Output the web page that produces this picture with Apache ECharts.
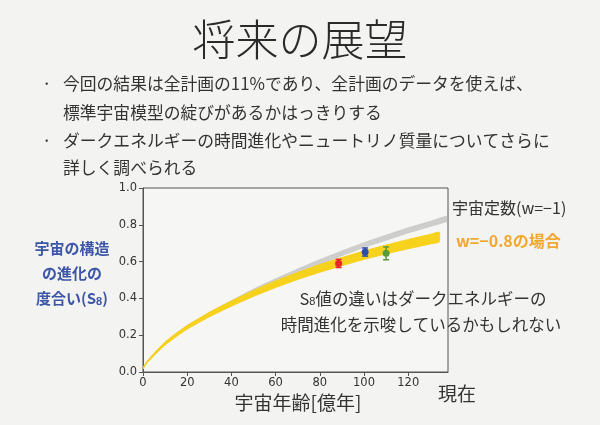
<!DOCTYPE html>
<html><head><meta charset="utf-8">
<script src="https://cdn.jsdelivr.net/npm/echarts@6/dist/echarts.min.js"></script>
<style>html,body{margin:0;padding:0;background:#f3f3f1}#c{width:600px;height:425px}</style>
</head><body><div id="c"></div>
<script>
// Age of universe [100 Myr units]
const lcdmAges  = [0, 1, 2, 5, 10, 15, 20, 30, 40, 50, 60, 70, 80, 90, 100, 110, 120, 130, 138];
// S8 growth, cosmological constant (w=-1): band centre and half width
const lcdmMid   = [0.02, 0.04, 0.056, 0.096, 0.156, 0.203, 0.245, 0.315, 0.378, 0.44, 0.495, 0.548, 0.598, 0.645, 0.69, 0.73, 0.77, 0.805, 0.835];
const lcdmHalf  = [0.003, 0.003, 0.004, 0.005, 0.006, 0.007, 0.008, 0.009, 0.010, 0.011, 0.012, 0.012, 0.013, 0.013, 0.013, 0.014, 0.014, 0.014, 0.014];
// S8 growth, w=-0.8: band centre and half width
const w08Ages   = [0, 1, 2, 5, 10, 15, 20, 30, 40, 50, 60, 70, 80, 90, 100, 110, 120, 130, 134];
const w08Mid    = [0.02, 0.04, 0.056, 0.096, 0.155, 0.201, 0.243, 0.312, 0.372, 0.427, 0.477, 0.522, 0.563, 0.60, 0.635, 0.666, 0.695, 0.722, 0.733];
const w08Half   = [0.004, 0.004, 0.005, 0.006, 0.008, 0.009, 0.010, 0.012, 0.014, 0.016, 0.018, 0.019, 0.021, 0.022, 0.023, 0.024, 0.025, 0.026, 0.027];
// measurements: age, S8, error
const pointAges = [88.5, 100.5, 110];
const pointS8   = [0.59, 0.652, 0.645];
const pointErr  = [0.022, 0.022, 0.035];
const pointColors = ['#e8262b', '#2b4fa3', '#5a9a3a'];

const bands = [
  {ages: lcdmAges, mid: lcdmMid, half: lcdmHalf, fill: 'rgba(165,165,165,0.5)', stroke: 'rgba(190,190,190,0.5)'},
  {ages: w08Ages,  mid: w08Mid,  half: w08Half,  fill: '#f7d21c', stroke: '#f7d21c'}
];

const chart = echarts.init(document.getElementById('c'), null, {renderer: 'canvas'});
const font = '"Noto Sans CJK JP", "Noto Sans", sans-serif';

chart.setOption({
  backgroundColor: '#f3f3f1',
  animation: false,
  grid: {left: 143, right: 152, top: 188, bottom: 53, show: true, borderColor: '#555', borderWidth: 1, backgroundColor: '#f6f6f5'},
  xAxis: {
    type: 'value', min: 0, max: 138, interval: 20,
    axisLine: {show: true, onZero: false, lineStyle: {color: '#555'}},
    axisTick: {show: true, length: 4, lineStyle: {color: '#555'}},
    splitLine: {show: false},
    axisLabel: {color: '#333', fontSize: 11.5, fontFamily: 'DejaVu Sans', showMaxLabel: false, margin: 5}
  },
  yAxis: {
    type: 'value', min: 0, max: 1, interval: 0.2,
    axisLine: {show: true, lineStyle: {color: '#555'}},
    axisTick: {show: true, length: 4, lineStyle: {color: '#555'}},
    splitLine: {show: false},
    axisLabel: {color: '#333', fontSize: 11.5, fontFamily: 'DejaVu Sans', margin: 6, formatter: v => v.toFixed(1)}
  },
  series: [
    {
      type: 'custom',
      data: bands.map((b, i) => [b.ages[b.ages.length - 1], b.mid[b.mid.length - 1], i]),
      renderItem: function (params, api) {
        const b = bands[api.value(2)];
        const up = b.ages.map((a, k) => api.coord([a, b.mid[k] + b.half[k]]));
        const lo = b.ages.map((a, k) => api.coord([a, b.mid[k] - b.half[k]])).reverse();
        return {type: 'polygon', shape: {points: up.concat(lo), smooth: 0.15},
          style: {fill: b.fill, stroke: b.stroke, lineWidth: 1}};
      },
      clip: true, silent: true, z: 2
    },
    {
      type: 'custom',
      data: pointAges.map((a, i) => [a, pointS8[i], pointErr[i], i]),
      renderItem: function (params, api) {
        const x = api.value(0), y = api.value(1), e = api.value(2), i = api.value(3);
        const c = pointColors[i];
        const p = api.coord([x, y]);
        const top = api.coord([x, y + e]);
        const bot = api.coord([x, y - e]);
        return {type: 'group', children: [
          {type: 'line', shape: {x1: p[0], y1: top[1], x2: p[0], y2: bot[1]}, style: {stroke: c, lineWidth: 1.5}},
          {type: 'line', shape: {x1: p[0] - 3, y1: top[1], x2: p[0] + 3, y2: top[1]}, style: {stroke: c, lineWidth: 1.5}},
          {type: 'line', shape: {x1: p[0] - 3, y1: bot[1], x2: p[0] + 3, y2: bot[1]}, style: {stroke: c, lineWidth: 1.5}},
          {type: 'circle', shape: {cx: p[0], cy: p[1], r: 3.5}, style: {fill: c}}
        ]};
      },
      silent: true, z: 5
    }
  ],
  graphic: {elements: [
    {type: 'text', left: 'center', top: 18, z: 100, style: {text: '将来の展望', font: '300 43px ' + font, fill: '#2a2a2a'}},
    {type: 'text', left: 42, top: 75, z: 100, style: {text: '·', font: '17px ' + font, fill: '#333'}},
    {type: 'text', left: 63, top: 75, z: 100, style: {text: '今回の結果は全計画の11%であり、全計画のデータを使えば、', font: '16.8px ' + font, fill: '#333'}},
    {type: 'text', left: 63, top: 104, z: 100, style: {text: '標準宇宙模型の綻びがあるかはっきりする', font: '16.8px ' + font, fill: '#333'}},
    {type: 'text', left: 42, top: 132, z: 100, style: {text: '·', font: '17px ' + font, fill: '#333'}},
    {type: 'text', left: 63, top: 132, z: 100, style: {text: 'ダークエネルギーの時間進化やニュートリノ質量についてさらに', font: '16.8px ' + font, fill: '#333'}},
    {type: 'text', left: 63, top: 159, z: 100, style: {text: '詳しく調べられる', font: '16.8px ' + font, fill: '#333'}},
    {type: 'text', x: 72, y: 236, z: 100, style: {
      text: '宇宙の構造\nの進化の\n度合い(S{s|8})', align: 'center', lineHeight: 25,
      font: 'bold 15px ' + font, fill: '#3d56a8',
      rich: {s: {fontSize: 11, fontWeight: 'bold', fill: '#3d56a8', padding: [6, 0, 0, 0]}}
    }},
    {type: 'text', x: 452, y: 200, z: 100, style: {text: '宇宙定数(w=−1)', font: '16px ' + font, fill: '#333'}},
    {type: 'text', x: 456, y: 233, z: 100, style: {text: 'w=−0.8の場合', font: 'bold 16px ' + font, fill: '#f2a72e'}},
    {type: 'text', x: 423, y: 290, z: 100, style: {text: 'S{s|8}値の違いはダークエネルギーの', align: 'center', font: '16.5px ' + font, fill: '#333',
      rich: {s: {fontSize: 11, fill: '#333', padding: [6, 0, 0, 0]}}}},
    {type: 'text', x: 421, y: 316, z: 100, style: {text: '時間進化を示唆しているかもしれない', align: 'center', font: '16.5px ' + font, fill: '#333'}},
    {type: 'text', x: 298, y: 393, z: 100, style: {text: '宇宙年齢[億年]', align: 'center', font: '19px ' + font, fill: '#333'}},
    {type: 'text', x: 438, y: 384, z: 100, style: {text: '現在', font: '19px ' + font, fill: '#333'}}
  ]}
});
</script></body></html>
